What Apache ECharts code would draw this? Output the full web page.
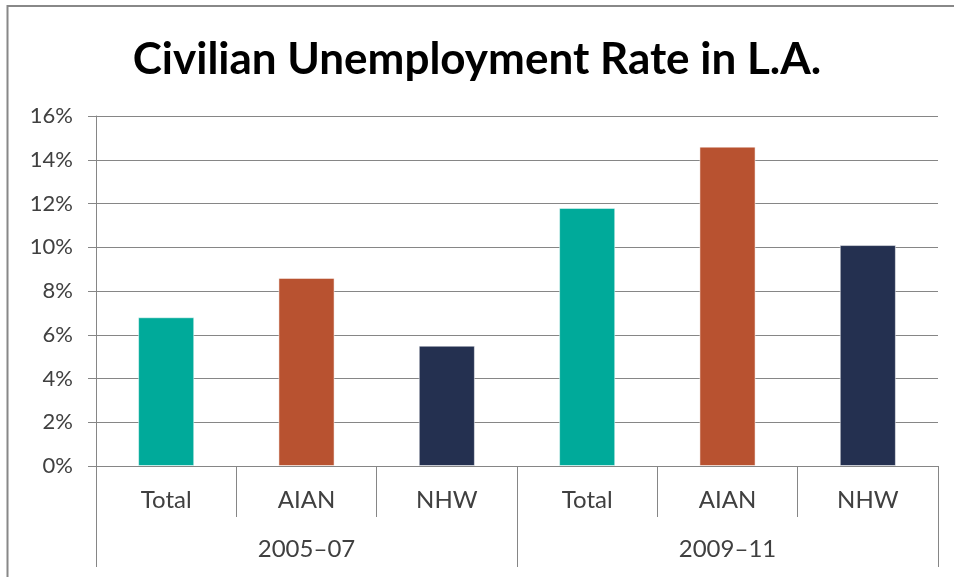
<!DOCTYPE html>
<html>
<head>
<meta charset="utf-8">
<script src="https://cdn.jsdelivr.net/npm/echarts@6/dist/echarts.min.js"></script>
<style>
html,body{margin:0;padding:0;background:#fff;}
#chart{width:954px;height:577px;}
</style>
</head>
<body>
<div id="chart"></div>
<script>
const titleText = 'Civilian Unemployment Rate in L.A.';
const categories = ['Total', 'AIAN', 'NHW', 'Total', 'AIAN', 'NHW'];
const periods = ['2005\u201307', '2009\u201311'];
const rates = [6.8, 8.6, 5.5, 11.8, 14.6, 10.1];
const yTicks = [0, 2, 4, 6, 8, 10, 12, 14, 16];

const palette = ['#00AA9A', '#B85230', '#243050'];
const textColor = '#404040';
const lineColor = '#868686';
const font = 'Lato, "Open Sans", sans-serif';

const chart = echarts.init(document.getElementById('chart'));
chart.setOption({
  animation: false,
  backgroundColor: '#ffffff',
  title: {
    text: titleText,
    left: 'center',
    top: 33,
    textStyle: { fontFamily: font, fontWeight: 'bold', fontSize: 44, color: '#000000' }
  },
  grid: { left: 96, right: 16, top: 116, bottom: 111, containLabel: false },
  xAxis: [
    {
      type: 'category',
      data: categories,
      position: 'bottom',
      axisLine: { show: true, lineStyle: { color: lineColor, width: 1 } },
      axisTick: { show: true, length: 51, lineStyle: { color: lineColor, width: 1 } },
      axisLabel: { margin: 22, fontFamily: font, fontSize: 24, color: textColor },
      splitLine: { show: false }
    },
    {
      type: 'category',
      data: periods,
      position: 'bottom',
      axisLine: { show: false },
      axisTick: { show: true, length: 101, lineStyle: { color: lineColor, width: 1 } },
      axisLabel: { margin: 71, fontFamily: font, fontSize: 24, color: textColor },
      splitLine: { show: false }
    }
  ],
  yAxis: {
    type: 'value',
    min: yTicks[0],
    max: yTicks[yTicks.length - 1],
    interval: 2,
    axisLine: { show: true, lineStyle: { color: lineColor, width: 1 } },
    axisTick: { show: true, length: 8, lineStyle: { color: lineColor, width: 1 } },
    axisLabel: { margin: 23, fontFamily: font, fontSize: 22, color: textColor, formatter: '{value}%' },
    splitLine: { show: true, lineStyle: { color: lineColor, width: 1 } }
  },
  series: [{
    type: 'bar',
    xAxisIndex: 0,
    data: rates,
    barWidth: '40%',
    itemStyle: {
      color: p => palette[p.dataIndex % 3],
      borderColor: 'rgba(255,255,255,0.5)',
      borderWidth: 1
    }
  }],
  graphic: [
    { type: 'line', shape: { x1: 7.5, y1: 5, x2: 7.5, y2: 577 }, style: { stroke: '#888888', lineWidth: 2 }, z: 100 },
    { type: 'line', shape: { x1: 7, y1: 6, x2: 954, y2: 6 }, style: { stroke: '#888888', lineWidth: 2 }, z: 100 }
  ]
});
</script>
</body>
</html>
